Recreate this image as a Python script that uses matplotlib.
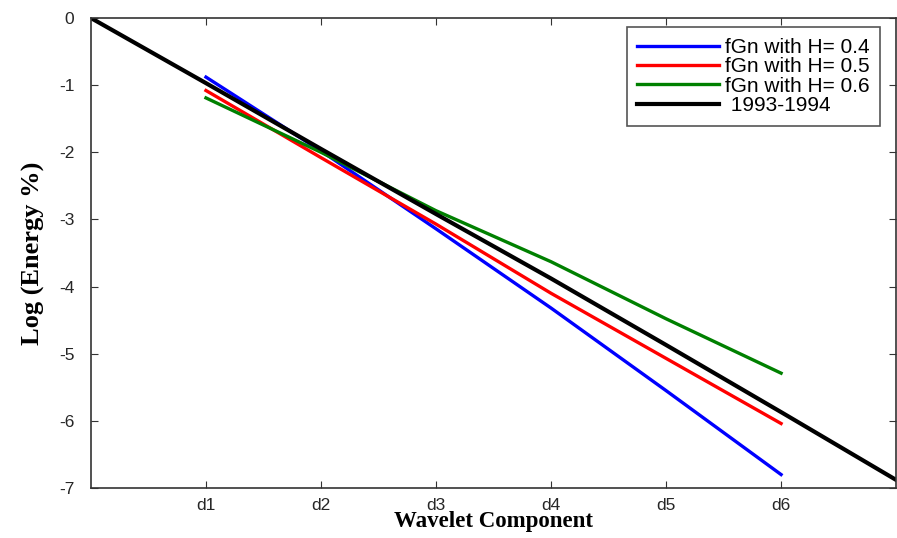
import matplotlib.pyplot as plt

components = ['d1', 'd2', 'd3', 'd4', 'd5', 'd6']
comp_pos = [1, 2, 3, 4, 5, 6]

h04 = [-0.88, -1.98, -3.14, -4.32, -5.55, -6.80]
h05 = [-1.08, -2.08, -3.07, -4.10, -5.07, -6.04]
h06 = [-1.19, -2.00, -2.87, -3.63, -4.48, -5.29]

obs_pos = [0, 1, 2, 3, 4, 5, 6, 7]
obs = [0.0, -0.97, -1.95, -2.92, -3.88, -4.87, -5.87, -6.88]

plt.rcParams['font.family'] = ['Liberation Sans', 'DejaVu Sans']
plt.rcParams['axes.unicode_minus'] = False

fig = plt.figure(figsize=(8.97, 5.38), dpi=100)
ax = fig.add_axes([0.1014, 0.093, 0.8976, 0.8735])

ax.plot(comp_pos, h04, color='#0000ff', lw=2.4, label='fGn with H= 0.4')
ax.plot(comp_pos, h05, color='#ff0000', lw=2.4, label='fGn with H= 0.5')
ax.plot(comp_pos, h06, color='#008000', lw=2.4, label='fGn with H= 0.6')
ax.plot(obs_pos, obs, color='black', lw=3, label=' 1993-1994')

ax.set_xlim(0, 7)
ax.set_ylim(-7, 0)
ax.set_xticks(comp_pos)
ax.set_xticklabels(components)
ax.set_yticks(range(-7, 1))
ax.tick_params(direction='in', top=True, right=True, labelsize=12.5, length=5,
               color='#333333', labelcolor='#262626')
ax.tick_params(axis='x', pad=7)
ax.tick_params(axis='y', pad=12)
for s in ax.spines.values():
    s.set_color('#333333')
    s.set_linewidth(1.2)

ax.set_xlabel('Wavelet Component', family='Liberation Serif', fontweight='bold',
              fontsize=16.5, labelpad=-1)
ax.set_ylabel('Log (Energy %)', family='Liberation Serif', fontweight='bold',
              fontsize=19, labelpad=10)

leg = ax.legend(loc='upper right', bbox_to_anchor=(0.98, 0.98), borderaxespad=0,
                fontsize=15, handlelength=3.9, handletextpad=0.3, fancybox=False,
                framealpha=1, edgecolor='#555555', borderpad=0.5, labelspacing=0.02)
leg.get_frame().set_linewidth(1.2)

fig.savefig('out.png', dpi=100)
